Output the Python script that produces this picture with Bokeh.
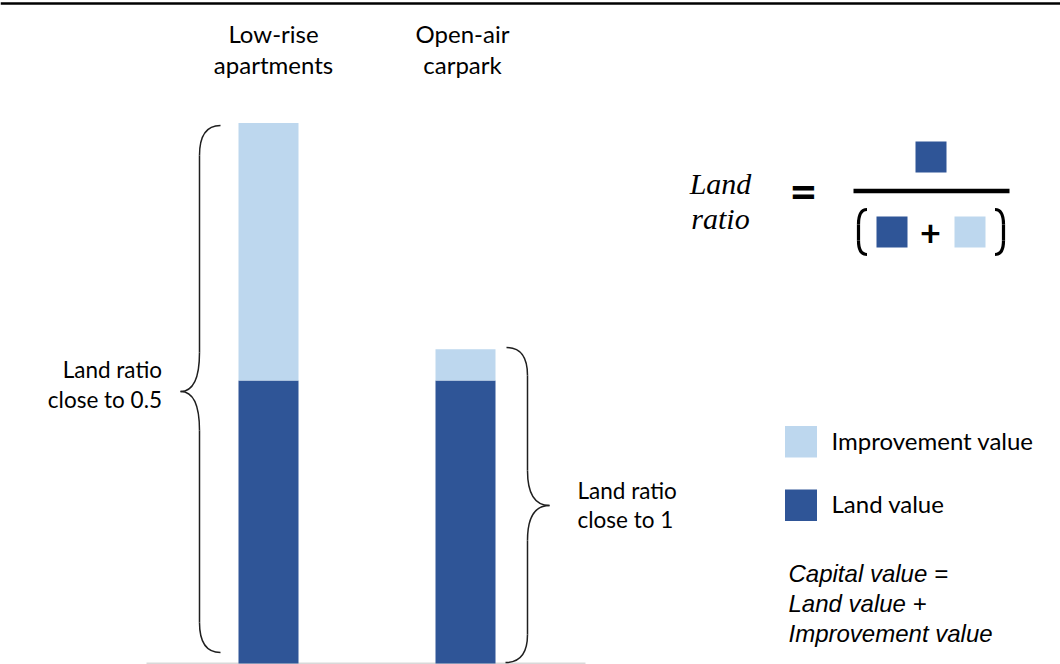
from bokeh.plotting import figure
from bokeh.models import Range1d, ColumnDataSource, Span
from bokeh.core.properties import value
from bokeh.embed import file_html
from bokeh.resources import INLINE

# ---------------- data ----------------
categories = ["Low-rise\napartments", "Open-air\ncarpark"]
land_value = [100, 100]
improvement_value = [91, 11]
bracket_labels = ["Land ratio\nclose to 0.5", "Land ratio\nclose to 1"]
legend_labels = ["Improvement value", "Land value"]
capital_note = ["Capital value =", "Land value +", "Improvement value"]
formula_label = ["Land", "ratio"]

DARK = "#2F5597"
LIGHT = "#BDD7EE"
INK = "#1F1F1F"

W, H = 1060, 664
K = 2.83      # pixels per value unit
BASE = 663.0  # pixel row of value 0
TEXT_DY = -9  # baseline correction for svg text


def Y(py):
    return (BASE - py) / K


p = figure(width=W, height=H, x_range=Range1d(0, W), y_range=Range1d(Y(H), Y(0)),
           output_backend="svg", toolbar_location=None, min_border=0,
           x_axis_location=None, y_axis_location=None,
           margin=(0, 0, 0, 0))
p.grid.visible = False
p.outline_line_color = None
p.background_fill_color = "white"
p.border_fill_color = "white"

# top rule
p.add_layout(Span(location=Y(3), dimension="width", line_color="black", line_width=2.5))

# baseline
p.segment(x0=[146], y0=[Y(662.8)], x1=[585], y1=[Y(662.8)], line_color="#D9D9D9", line_width=1.5)

# bars
bar_x = [268, 465]
src = ColumnDataSource(dict(x=bar_x, land=land_value, imp=improvement_value))
p.vbar_stack(["land", "imp"], x="x", width=60, color=[DARK, LIGHT], line_color=None, source=src)


def txt(x, y, s, size, font="Lato", align="left", style="normal", color="black"):
    p.text(x=[x], y=[Y(y + TEXT_DY)], text=[s], text_font=value(font), text_font_size=f"{size}px",
           text_align=align, text_baseline="alphabetic", text_font_style=style, text_color=color)


# category labels
label_x = [273, 462]
for cx, cat in zip(label_x, categories):
    for i, line in enumerate(cat.split("\n")):
        txt(cx, 41.7 + 31.5 * i, line, 24, align="center")

# braces
def quad(x0, y0, cx, cy, x1, y1, lw=1.5, color=INK):
    p.quadratic(x0=[x0], y0=[Y(y0)], x1=[x1], y1=[Y(y1)], cx=[cx], cy=[Y(cy)],
                line_color=color, line_width=lw)


def seg(x0, y0, x1, y1, lw=1.5, color=INK):
    p.segment(x0=[x0], y0=[Y(y0)], x1=[x1], y1=[Y(y1)], line_color=color, line_width=lw)


# left brace (apartments)
quad(220, 125, 199, 125, 199, 155)
seg(199, 155, 199, 352)
quad(199, 352, 199, 391, 180, 391)
quad(180, 391, 199, 391, 199, 430)
seg(199, 430, 199, 622)
quad(199, 622, 199, 652, 220, 652)

# right brace (carpark)
quad(506, 347, 527, 347, 527, 375)
seg(527, 375, 527, 470)
quad(527, 470, 527, 505, 549, 505)
quad(549, 505, 527, 505, 527, 540)
seg(527, 540, 527, 634)
quad(527, 634, 527, 662, 505, 662)

# bracket labels
l1 = bracket_labels[0].split("\n")
txt(161.5, 378, l1[0], 22.5, align="right")
txt(161.5, 408, l1[1], 22.5, align="right")
l2 = bracket_labels[1].split("\n")
txt(577, 498.5, l2[0], 22.5)
txt(577, 528.3, l2[1], 22.5)

# legend
p.quad(left=[784.5], right=[816.5], top=[Y(425.5)], bottom=[Y(457)], fill_color=LIGHT, line_color=None)
p.quad(left=[784.5], right=[816.5], top=[Y(489)], bottom=[Y(520.5)], fill_color=DARK, line_color=None)
txt(831, 449.3, legend_labels[0], 24)
txt(831, 511.7, legend_labels[1], 24)

# capital value note
for i, line in enumerate(capital_note):
    txt(788, 581.7 + 30 * i, line, 24, font="Liberation Sans", style="italic")

# formula
txt(720, 192, formula_label[0], 30, font="Liberation Serif", align="center", style="italic")
txt(720, 227, formula_label[1], 30, font="Liberation Serif", align="center", style="italic")
txt(803, 199, "=", 48, align="center", style="bold")
p.quad(left=[853], right=[1009], top=[Y(188.3)], bottom=[Y(192.7)], fill_color="black", line_color=None)
p.quad(left=[915], right=[946], top=[Y(141)], bottom=[Y(172)], fill_color=DARK, line_color=None)
p.quad(left=[876], right=[907], top=[Y(216)], bottom=[Y(247)], fill_color=DARK, line_color=None)
p.quad(left=[954], right=[985], top=[Y(216)], bottom=[Y(247)], fill_color=LIGHT, line_color=None)
txt(930, 241, "+", 36, align="center", style="bold")
# parentheses
quad(866.5, 209, 858, 209, 858, 224, lw=3.2, color="black")
seg(858, 224, 858, 240, lw=3.2, color="black")
quad(858, 240, 858, 254, 866.5, 254, lw=3.2, color="black")
quad(994.5, 209, 1003, 209, 1003, 224, lw=3.2, color="black")
seg(1003, 224, 1003, 240, lw=3.2, color="black")
quad(1003, 240, 1003, 254, 994.5, 254, lw=3.2, color="black")

open("out.html", "w").write(file_html(p, INLINE))
